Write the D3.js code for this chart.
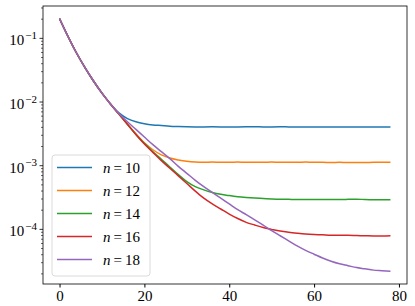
<!DOCTYPE html>
<html>
<head>
<meta charset="utf-8">
<script src="https://cdn.jsdelivr.net/npm/d3@7"></script>
<style>
  body { margin: 0; background: #fff; }
  svg { display: block; }
  svg text { font-family: "Liberation Serif", "Times New Roman", serif !important; fill: #000; }
</style>
</head>
<body>
<div id="chart"></div>
<script>
// ------------------
// Data
// ------------------
const steps = [0, 2, 4, 6, 8, 10, 12, 14, 16, 18, 20, 22, 24, 26, 28, 30, 32, 34, 36, 38,
  40, 42, 44, 46, 48, 50, 52, 54, 56, 58, 60, 62, 64, 66, 68, 70, 72, 74, 76, 78];

const n10 = [0.204, 0.107, 0.0589, 0.0347, 0.0214, 0.0138, 0.00933, 0.00676, 0.0055, 0.0049,
  0.00457, 0.00437, 0.00427, 0.00417, 0.00412, 0.00408, 0.00406, 0.00407, 0.00408, 0.00407,
  0.00406, 0.00407, 0.00408, 0.00408, 0.00407, 0.00407, 0.00408, 0.00407, 0.00406, 0.00406,
  0.00406, 0.00407, 0.00407, 0.00406, 0.00406, 0.00406, 0.00407, 0.00406, 0.00407, 0.00407];

const n12 = [0.204, 0.107, 0.0589, 0.0347, 0.0214, 0.0138, 0.00933, 0.00646, 0.00447, 0.00316,
  0.00229, 0.00178, 0.00148, 0.00132, 0.00123, 0.00117, 0.00114, 0.00113, 0.00114, 0.00113,
  0.00113, 0.00114, 0.00113, 0.00113, 0.00113, 0.00114, 0.00113, 0.00113, 0.00113, 0.00114,
  0.00113, 0.00113, 0.00112, 0.00113, 0.00112, 0.00112, 0.00112, 0.00113, 0.00113, 0.00113];

const n14 = [0.204, 0.107, 0.0589, 0.0347, 0.0214, 0.0138, 0.00933, 0.00646, 0.00447, 0.00309,
  0.00224, 0.00166, 0.00126, 9.55e-4, 7.24e-4, 5.62e-4, 4.68e-4, 4.17e-4, 3.8e-4, 3.55e-4,
  3.39e-4, 3.26e-4, 3.17e-4, 3.1e-4, 3.04e-4, 3.0e-4, 2.97e-4, 2.96e-4, 2.95e-4, 2.95e-4,
  2.95e-4, 2.94e-4, 2.94e-4, 2.95e-4, 2.96e-4, 2.98e-4, 2.94e-4, 2.92e-4, 2.92e-4, 2.93e-4];

const n16 = [0.204, 0.107, 0.0589, 0.0347, 0.0214, 0.0138, 0.00933, 0.00646, 0.00447, 0.00309,
  0.00219, 0.00162, 0.0012, 9.12e-4, 6.92e-4, 5.25e-4, 3.98e-4, 3.09e-4, 2.51e-4, 2.09e-4,
  1.74e-4, 1.48e-4, 1.29e-4, 1.17e-4, 1.07e-4, 1.0e-4, 9.4e-5, 9.0e-5, 8.7e-5, 8.45e-5,
  8.3e-5, 8.2e-5, 8.1e-5, 8.05e-5, 8.05e-5, 8.0e-5, 7.95e-5, 7.9e-5, 7.9e-5, 7.95e-5];

const n18 = [0.204, 0.107, 0.0589, 0.0347, 0.0214, 0.0138, 0.00933, 0.00661, 0.0049, 0.00372,
  0.00282, 0.00214, 0.00166, 0.00129, 9.77e-4, 7.59e-4, 5.89e-4, 4.68e-4, 3.8e-4, 3.09e-4,
  2.51e-4, 2.04e-4, 1.7e-4, 1.41e-4, 1.17e-4, 9.55e-5, 7.94e-5, 6.61e-5, 5.5e-5, 4.68e-5,
  4.07e-5, 3.55e-5, 3.16e-5, 2.88e-5, 2.69e-5, 2.51e-5, 2.4e-5, 2.29e-5, 2.24e-5, 2.19e-5];

const seriesLabels = ["10", "12", "14", "16", "18"];
const seriesValues = [n10, n12, n14, n16, n18];
const colors = ["#1f77b4", "#ff7f0e", "#2ca02c", "#d62728", "#9467bd"];
const xTicks = [0, 20, 40, 60, 80];
const yExponents = [-1, -2, -3, -4];

// ------------------
// Layout
// ------------------
const width = 415, height = 306;
const margin = { top: 6, right: 8, bottom: 22, left: 43 };

const svg = d3.select("#chart").append("svg")
  .attr("width", width)
  .attr("height", height);

// matplotlib-style 5% margins (log space for y)
const xExt = d3.extent(steps);
const xPad = (xExt[1] - xExt[0]) * 0.05;
const allVals = seriesValues.flat();
const lMin = Math.log10(d3.min(allVals)), lMax = Math.log10(d3.max(allVals));
const lPad = (lMax - lMin) * 0.05;

const x = d3.scaleLinear()
  .domain([xExt[0] - xPad, xExt[1] + xPad])
  .range([margin.left, width - margin.right]);

const y = d3.scaleLog()
  .domain([Math.pow(10, lMin - lPad), Math.pow(10, lMax + lPad)])
  .range([height - margin.bottom, margin.top]);

// ------------------
// Lines
// ------------------
const line = d3.line()
  .x(d => x(d[0]))
  .y(d => y(d[1]))
  .curve(d3.curveMonotoneX);

seriesValues.forEach((vals, i) => {
  svg.append("path")
    .datum(steps.map((s, j) => [s, vals[j]]))
    .attr("fill", "none")
    .attr("stroke", colors[i])
    .attr("stroke-width", 1.5)
    .attr("d", line);
});

// ------------------
// Axes
// ------------------
const xAxis = svg.append("g")
  .attr("transform", `translate(0,${height - margin.bottom})`)
  .call(d3.axisBottom(x).tickValues(xTicks).tickSize(3.5).tickPadding(3).tickFormat(d3.format("d")));
xAxis.select(".domain").remove();
xAxis.attr("font-family", null);
xAxis.selectAll("text").attr("font-size", 15);

// minor log ticks
const minor = y.ticks().filter(v => {
  const e = Math.log10(v);
  return Math.abs(e - Math.round(e)) > 1e-6;
});
svg.append("g").selectAll("line").data(minor).join("line")
  .attr("x1", margin.left).attr("x2", margin.left - 2)
  .attr("y1", d => y(d)).attr("y2", d => y(d))
  .attr("stroke", "#000").attr("stroke-width", 0.6);

const yMajor = svg.append("g");
yMajor.selectAll("line").data(yExponents).join("line")
  .attr("x1", margin.left).attr("x2", margin.left - 3.5)
  .attr("y1", d => y(Math.pow(10, d))).attr("y2", d => y(Math.pow(10, d)))
  .attr("stroke", "#000").attr("stroke-width", 0.8);

const yLab = yMajor.selectAll("text").data(yExponents).join("text")
  .attr("x", margin.left - 6)
  .attr("y", d => y(Math.pow(10, d)) + 7)
  .attr("text-anchor", "end")
  .attr("font-size", 15);
yLab.append("tspan").text("10");
yLab.append("tspan")
  .attr("dx", 1)
  .attr("dy", -6.5)
  .attr("font-size", 11)
  .text(d => "\u2212" + Math.abs(d));

// frame
svg.append("rect")
  .attr("x", margin.left)
  .attr("y", margin.top)
  .attr("width", width - margin.left - margin.right)
  .attr("height", height - margin.top - margin.bottom)
  .attr("fill", "none")
  .attr("stroke", "#000")
  .attr("stroke-width", 0.8);

// ------------------
// Legend
// ------------------
const legend = svg.append("g").attr("transform", "translate(52,155)");
legend.append("rect")
  .attr("width", 98).attr("height", 121)
  .attr("rx", 3)
  .attr("fill", "#fff").attr("fill-opacity", 0.8)
  .attr("stroke", "#d0d0d0").attr("stroke-width", 0.8);

seriesLabels.forEach((lab, i) => {
  const row = legend.append("g").attr("transform", `translate(0,${12.5 + i * 23})`);
  row.append("line")
    .attr("x1", 5).attr("x2", 40)
    .attr("stroke", colors[i]).attr("stroke-width", 1.5);
  const t = row.append("text")
    .attr("x", 51).attr("y", 5)
    .attr("font-size", 15);
  t.append("tspan").attr("font-style", "italic").text("n");
  t.append("tspan").attr("dx", 3).text("=");
  t.append("tspan").attr("dx", 3).text(lab);
});
</script>
</body>
</html>
